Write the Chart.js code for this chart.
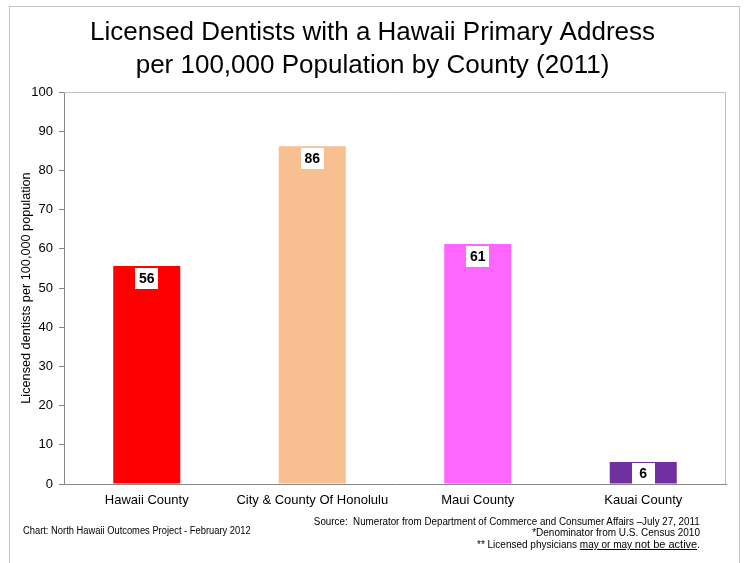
<!DOCTYPE html>
<html>
<head>
<meta charset="utf-8">
<title>Licensed Dentists per 100,000 Population by County</title>
<script src="https://cdn.jsdelivr.net/npm/chart.js@4.4.0/dist/chart.umd.min.js"></script>
<style>
  body { margin: 0; background: #fff; overflow: hidden; }
  #frame { position: absolute; left: 9px; top: 6px; width: 729px; height: 600px; border: 1px solid #c4c4c4; }
  #chart1 { position: absolute; left: 0; top: 0; }
  .note { position: absolute; font-family: "Liberation Sans", Arial, sans-serif; font-size: 10px; color: #000; white-space: nowrap; line-height: 12px; }
  .right { right: 45px; text-align: right; transform-origin: right center; }
  .left { left: 23px; transform-origin: left center; transform: scaleX(0.935); }
  .big { font-size: 11px; }
</style>
</head>
<body>
<div id="frame"></div>
<canvas id="chart1" width="745" height="563"></canvas>
<div class="note left" style="top:525px;">Chart: North Hawaii Outcomes Project - February 2012</div>
<div class="note right" style="top:516px; transform: scaleX(0.98);">Source:&nbsp; Numerator from Department of Commerce and Consumer Affairs –July 27, 2011</div>
<div class="note right" style="top:527px;">*Denominator from U.S. Census 2010</div>
<div class="note right" style="top:538px;">** Licensed physicians <u>may or may <span class="big">not be active</span></u>.</div>

<script>
const counties = ["Hawaii County", "City & County Of Honolulu", "Maui County", "Kauai County"];
const dentists = [55.6, 86.2, 61.2, 5.6];
const barColors = ["#ff0000", "#f8c090", "#ff66ff", "#7030a0"];
const yTicks = [0, 10, 20, 30, 40, 50, 60, 70, 80, 90, 100];

const ctx1 = document.getElementById("chart1").getContext("2d");
Chart.defaults.font.family = '"Liberation Sans", Arial, sans-serif';
Chart.defaults.color = "#000";

// light frame on top and right of the plot area
const plotFrame = {
  id: "plotFrame",
  beforeDatasetsDraw(chart) {
    const a = chart.chartArea;
    const c = chart.ctx;
    c.save();
    c.strokeStyle = "#c0c0c0";
    c.lineWidth = 1;
    c.beginPath();
    c.moveTo(a.left, a.top + 0.5);
    c.lineTo(a.right - 0.5, a.top + 0.5);
    c.lineTo(a.right - 0.5, a.bottom);
    c.stroke();
    c.restore();
  }
};

// white boxes with the rounded value at top of each bar
const valueBoxes = {
  id: "valueBoxes",
  afterDatasetsDraw(chart) {
    const c = chart.ctx;
    const meta = chart.getDatasetMeta(0);
    c.save();
    c.font = 'bold 14px "Liberation Sans", Arial, sans-serif';
    c.textAlign = "center";
    c.textBaseline = "middle";
    meta.data.forEach((bar, i) => {
      const txt = String(Math.round(dentists[i]));
      const w = 23, h = 21;
      const top = Math.min(bar.y + 2, bar.base - h);
      c.fillStyle = "#fff";
      c.fillRect(Math.round(bar.x - w / 2), Math.round(top), w, h);
      c.fillStyle = "#000";
      c.fillText(txt, bar.x, top + h / 2 + 1);
    });
    c.restore();
  }
};

new Chart(ctx1, {
  type: "bar",
  data: {
    labels: counties,
    datasets: [{
      data: dentists,
      backgroundColor: barColors,
      borderWidth: 0,
      categoryPercentage: 1,
      barPercentage: 0.405
    }]
  },
  options: {
    responsive: false,
    animation: false,
    layout: { padding: 0 },
    plugins: {
      legend: { display: false },
      tooltip: { enabled: false },
      title: {
        display: true,
        text: ["Licensed Dentists with a Hawaii Primary Address", "per 100,000 Population by County (2011)"],
        font: { size: 26, weight: "normal", lineHeight: 1.27 },
        color: "#000",
        padding: { top: 16, bottom: 10 }
      }
    },
    scales: {
      x: {
        grid: { display: false, drawTicks: false },
        border: { color: "#888", z: 1 },
        ticks: { font: { size: 13 }, color: "#000", padding: 9 },
        afterFit(scale) { scale.height = 79; }
      },
      y: {
        min: 0,
        max: 100,
        afterBuildTicks(scale) { scale.ticks = yTicks.map(v => ({ value: v })); },
        grid: { drawOnChartArea: false, drawTicks: true, tickLength: 5, color: "#888" },
        border: { color: "#888" },
        ticks: { font: { size: 13 }, color: "#000", padding: 6 },
        title: {
          display: true,
          text: "Licensed dentists per 100,000 population",
          font: { size: 12.7 },
          color: "#000",
          padding: { top: 19, bottom: 0 }
        },
        afterFit(scale) { scale.width = 64; }
      },
      // empty right-hand margin so the title stays centred on the page
      yRight: {
        position: "right",
        display: true,
        grid: { display: false, drawTicks: false },
        border: { display: false },
        ticks: { display: false },
        afterFit(scale) { scale.width = 19; }
      }
    }
  },
  plugins: [plotFrame, valueBoxes]
});
</script>
</body>
</html>
